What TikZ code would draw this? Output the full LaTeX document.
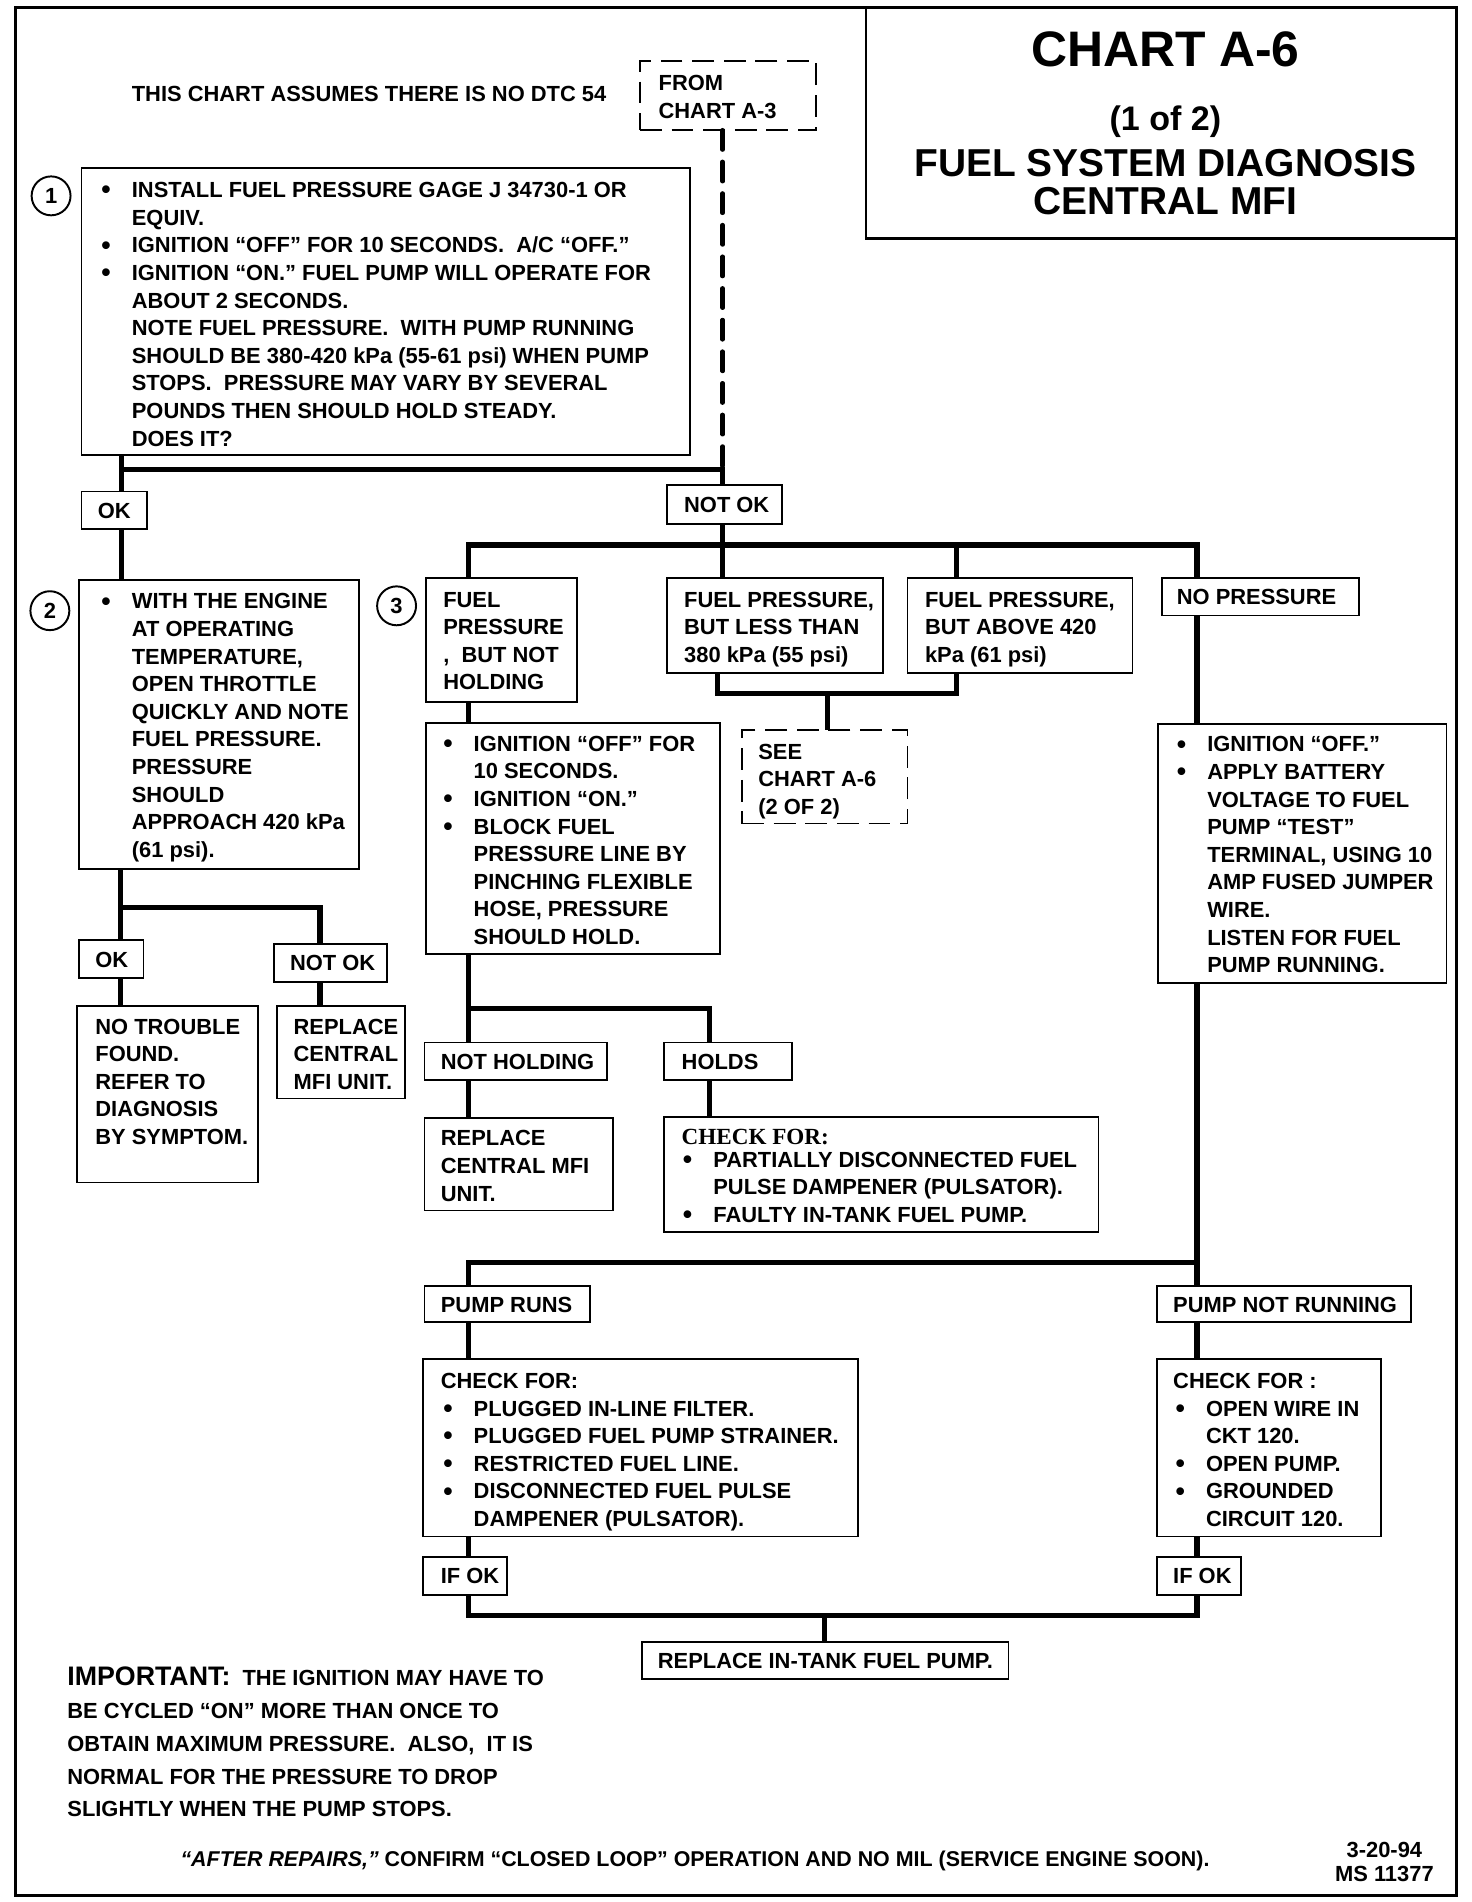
\documentclass[tikz,border=0pt]{standalone}
\usepackage{fontspec}
\setmainfont{Liberation Sans}
\newfontfamily\serifb{Liberation Serif}
\newdimen\U \U=0.5pt
\newcommand\bu{\makebox[25\U][l]{\raisebox{-0.5pt}{\fontsize{11}{11}\selectfont •}}}
\newcommand\ii{\hspace*{25\U}}
\newcommand\bx[6][]{\node[box,#1,minimum width={(#5-#3)*0.5pt},minimum height={(#6-#4)*0.5pt}] (#2) at (#3,#4) {};}
\newcommand\tx[4][]{\node[txt,#1] at (#2,#3) {\begin{tabular}[t]{@{}l@{}}#4\end{tabular}};}
\begin{document}
\begin{tikzpicture}[x=0.5pt,y=-0.5pt,
 box/.style={draw, line width=0.75pt, inner sep=0pt, outer sep=0pt, anchor=north west},
 dbox/.style={dash pattern=on 9pt off 4pt},
 conn/.style={line width=2.2pt, line join=miter},
 dconn/.style={line width=1.8pt, line cap=round, dash pattern=on 8pt off 5pt},
 txt/.style={inner sep=0pt, anchor=base west, font=\fontsize{9}{11.35}\selectfont\bfseries},
 num/.style={draw, circle, line width=0.8pt, minimum size=16pt, inner sep=0pt, font=\fontsize{9}{9}\selectfont\bfseries}]
\path[use as bounding box] (0,0) rectangle (1210,1563.5);
% outer frame and title
\draw[line width=1.3pt] (13,6) rectangle (1197,1558);
\bx[line width=1.1pt]{title}{712}{6}{1197}{196}
\node[inner sep=0pt, anchor=base, font=\fontsize{20.5}{24}\selectfont\bfseries] at (958,54.5) {CHART A-6};
\node[inner sep=0pt, anchor=base, font=\fontsize{14}{16}\selectfont\bfseries] at (958,107) {(1 of 2)};
\node[inner sep=0pt, anchor=base, font=\fontsize{16}{18}\selectfont\bfseries] at (958,145) {FUEL SYSTEM DIAGNOSIS};
\node[inner sep=0pt, anchor=base, font=\fontsize{16}{18}\selectfont\bfseries] at (958,176.5) {CENTRAL MFI};
% header
\tx{108}{83.5}{THIS CHART ASSUMES THERE IS NO DTC 54}
\bx[dbox]{from}{526}{50}{671}{107}
\tx{541}{74.5}{FROM\\CHART A-3}
% box 1
\bx{b1}{67}{138}{567}{374}
\node[num] (c1) at (42,161) {1};
\tx{83}{162.5}{\bu INSTALL FUEL PRESSURE GAGE J 34730-1 OR\\
\ii EQUIV.\\
\bu IGNITION “OFF” FOR 10 SECONDS.\ \ A/C “OFF.”\\
\bu IGNITION “ON.” FUEL PUMP WILL OPERATE FOR\\
\ii ABOUT 2 SECONDS.\\
\ii NOTE FUEL PRESSURE.\ \ WITH PUMP RUNNING\\
\ii SHOULD BE 380-420 kPa (55-61 psi) WHEN PUMP\\
\ii STOPS.\ \ PRESSURE MAY VARY BY SEVERAL\\
\ii POUNDS THEN SHOULD HOLD STEADY.\\
\ii DOES IT?}
\bx{ok1}{67}{404}{121}{435}
\tx{80}{426}{OK}
\bx{nok1}{548}{399}{643}{431}
\tx{562}{421.5}{NOT OK}
% box 2
\bx{b2}{65}{477}{295}{714}
\node[num] (c2) at (41,502) {2};
\tx{83}{500.5}{\bu WITH THE ENGINE\\
\ii AT OPERATING\\
\ii TEMPERATURE,\\
\ii OPEN THROTTLE\\
\ii QUICKLY AND NOTE\\
\ii FUEL PRESSURE.\\
\ii PRESSURE\\
\ii SHOULD\\
\ii APPROACH 420 kPa\\
\ii (61 psi).}
\bx{ok2}{65}{773}{118}{804}
\tx{78}{795}{OK}
\bx{nok2}{225}{776}{318}{807}
\tx{238}{798}{NOT OK}
\bx{nt}{63}{827}{212}{972}
\tx{78}{850}{NO TROUBLE\\FOUND.\\REFER TO\\DIAGNOSIS\\BY SYMPTOM.}
\bx{rc}{228}{827}{333}{903}
\tx{241}{850}{REPLACE\\CENTRAL\\MFI UNIT.}
% not ok branch
\node[num] (c3) at (326,498) {3};
\bx{fpn}{350}{475}{474}{577}
\tx{364}{499}{FUEL\\PRESSURE\\, \ BUT NOT\\HOLDING}
\bx{fpl}{548}{475}{726}{553}
\tx{562}{499}{FUEL PRESSURE,\\BUT LESS THAN\\380 kPa (55 psi)}
\bx{fpa}{746}{475}{931}{553}
\tx{760}{499}{FUEL PRESSURE,\\BUT ABOVE 420\\kPa (61 psi)}
\bx{np}{955}{475}{1117}{506}
\tx{967}{497}{NO PRESSURE}
\bx[dbox]{see}{610}{600}{746}{677}
\tx{623}{624}{SEE\\CHART A-6\\(2 OF 2)}
\bx{ig}{350}{594}{592}{784}
\tx{364}{617.5}{\bu IGNITION “OFF” FOR\\
\ii 10 SECONDS.\\
\bu IGNITION “ON.”\\
\bu BLOCK FUEL\\
\ii PRESSURE LINE BY\\
\ii PINCHING FLEXIBLE\\
\ii HOSE, PRESSURE\\
\ii SHOULD HOLD.}
\bx{nh}{349}{857}{499}{888}
\tx{362}{879}{NOT HOLDING}
\bx{hl}{546}{857}{651}{888}
\tx{560}{879}{HOLDS}
\bx{rcm}{349}{919}{504}{995}
\tx{362}{942}{REPLACE\\CENTRAL MFI\\UNIT.}
\bx{ck}{546}{918}{903}{1013}
\node[inner sep=0pt, anchor=base west, font=\fontsize{9.5}{11}\selectfont\serifb\bfseries] at (560,941) {CHECK FOR:};
\tx{561}{959.5}{\bu PARTIALLY DISCONNECTED FUEL\\
\ii PULSE DAMPENER (PULSATOR).\\
\bu FAULTY IN-TANK FUEL PUMP.}
% no pressure branch
\bx{rb}{952}{595}{1189}{808}
\tx{967}{618}{\bu IGNITION “OFF.”\\
\bu APPLY BATTERY\\
\ii VOLTAGE TO FUEL\\
\ii PUMP “TEST”\\
\ii TERMINAL, USING 10\\
\ii AMP FUSED JUMPER\\
\ii WIRE.\\
\ii LISTEN FOR FUEL\\
\ii PUMP RUNNING.}
\bx{pr}{349}{1057}{485}{1087}
\tx{362}{1078.5}{PUMP RUNS}
\bx{pnr}{951}{1057}{1160}{1087}
\tx{964}{1078.5}{PUMP NOT RUNNING}
\bx{cf1}{348}{1117}{705}{1263}
\tx{362}{1141}{CHECK FOR:}
\tx{364}{1164}{\bu PLUGGED IN-LINE FILTER.\\
\bu PLUGGED FUEL PUMP STRAINER.\\
\bu RESTRICTED FUEL LINE.\\
\bu DISCONNECTED FUEL PULSE\\
\ii DAMPENER (PULSATOR).}
\bx{cf2}{951}{1117}{1135}{1263}
\tx{964}{1141}{CHECK FOR :}
\tx{966}{1164}{\bu OPEN WIRE IN\\
\ii CKT 120.\\
\bu OPEN PUMP.\\
\bu GROUNDED\\
\ii CIRCUIT 120.}
\bx{if1}{348}{1280}{417}{1311}
\tx{362}{1302}{IF OK}
\bx{if2}{951}{1280}{1020}{1311}
\tx{964}{1302}{IF OK}
\bx{rit}{528}{1350}{829}{1380}
\node[inner sep=0pt, anchor=base, font=\fontsize{9}{11}\selectfont\bfseries] at (678.5,1371.5) {REPLACE IN-TANK FUEL PUMP.};
% notes
\tx[font=\fontsize{9}{13.5}\selectfont\bfseries]{55}{1385.5}{{\fontsize{11}{13.5}\selectfont IMPORTANT:}\ \ THE IGNITION MAY HAVE TO\\
BE CYCLED “ON” MORE THAN ONCE TO\\
OBTAIN MAXIMUM PRESSURE.\ \ ALSO,\ \ IT IS\\
NORMAL FOR THE PRESSURE TO DROP\\
SLIGHTLY WHEN THE PUMP STOPS.}
\tx[font=\fontsize{8.8}{11}\selectfont\bfseries]{148}{1534.5}{\textit{“AFTER REPAIRS,”} CONFIRM “CLOSED LOOP” OPERATION AND NO MIL (SERVICE ENGINE SOON).}
\node[inner sep=0pt, anchor=base, font=\fontsize{9}{11}\selectfont\bfseries] (date) at (1138,1526.5) {3-20-94};
\node[inner sep=0pt, anchor=base, font=\fontsize{9}{11}\selectfont\bfseries] (ms) at (1138,1546.5) {MS 11377};
% connectors
\coordinate (j1l) at (100,386);
\coordinate (j1r) at (594,386);
\draw[dconn] (from.south -| j1r) -- (j1r);
\draw[conn] (b1.south -| j1l) -- (ok1.north -| j1l);
\draw[conn] (j1l) -- (j1r) -- (nok1.north -| j1r);
\draw[conn] (ok1.south -| j1l) -- (b2.north -| j1l);
\coordinate (j2l) at (99,746);
\coordinate (j2r) at (263,746);
\draw[conn] (b2.south -| j2l) -- (ok2.north -| j2l);
\draw[conn] (j2l) -- (j2r) -- (nok2.north -| j2r);
\draw[conn] (ok2.south -| j2l) -- (nt.north -| j2l);
\draw[conn] (nok2.south -| j2r) -- (rc.north -| j2r);
\coordinate (j3a) at (385,448);
\coordinate (j3c) at (786,448);
\coordinate (j3d) at (984,448);
\draw[conn] (nok1.south -| j1r) -- (fpl.north -| j1r);
\draw[conn] (fpn.north -| j3a) -- (j3a) -- (j3d) -- (np.north -| j3d);
\draw[conn] (j3c) -- (fpa.north -| j3c);
\coordinate (j4a) at (590,570);
\coordinate (j4b) at (786,570);
\coordinate (j4m) at (680,570);
\draw[conn] (fpl.south -| j4a) -- (j4a) -- (j4b) -- (fpa.south -| j4b);
\draw[conn] (j4m) -- (see.north -| j4m);
\draw[conn] (fpn.south -| j3a) -- (ig.north -| j3a);
\coordinate (j5a) at (385,829);
\coordinate (j5b) at (583,829);
\draw[conn] (ig.south -| j5a) -- (nh.north -| j5a);
\draw[conn] (j5a) -- (j5b) -- (hl.north -| j5b);
\draw[conn] (nh.south -| j5a) -- (rcm.north -| j5a);
\draw[conn] (hl.south -| j5b) -- (ck.north -| j5b);
\draw[conn] (np.south -| j3d) -- (rb.north -| j3d);
\coordinate (j6a) at (385,1038);
\coordinate (j6b) at (984,1038);
\draw[conn] (rb.south -| j6b) -- (pnr.north -| j6b);
\draw[conn] (j6b) -- (j6a) -- (pr.north -| j6a);
\draw[conn] (pr.south -| j6a) -- (cf1.north -| j6a);
\draw[conn] (pnr.south -| j6b) -- (cf2.north -| j6b);
\draw[conn] (cf1.south -| j6a) -- (if1.north -| j6a);
\draw[conn] (cf2.south -| j6b) -- (if2.north -| j6b);
\coordinate (j7a) at (385,1328);
\coordinate (j7b) at (984,1328);
\coordinate (j7m) at (678,1328);
\draw[conn] (if1.south -| j7a) -- (j7a) -- (j7b) -- (if2.south -| j7b);
\draw[conn] (j7m) -- (rit.north -| j7m);
\end{tikzpicture}
\end{document}
